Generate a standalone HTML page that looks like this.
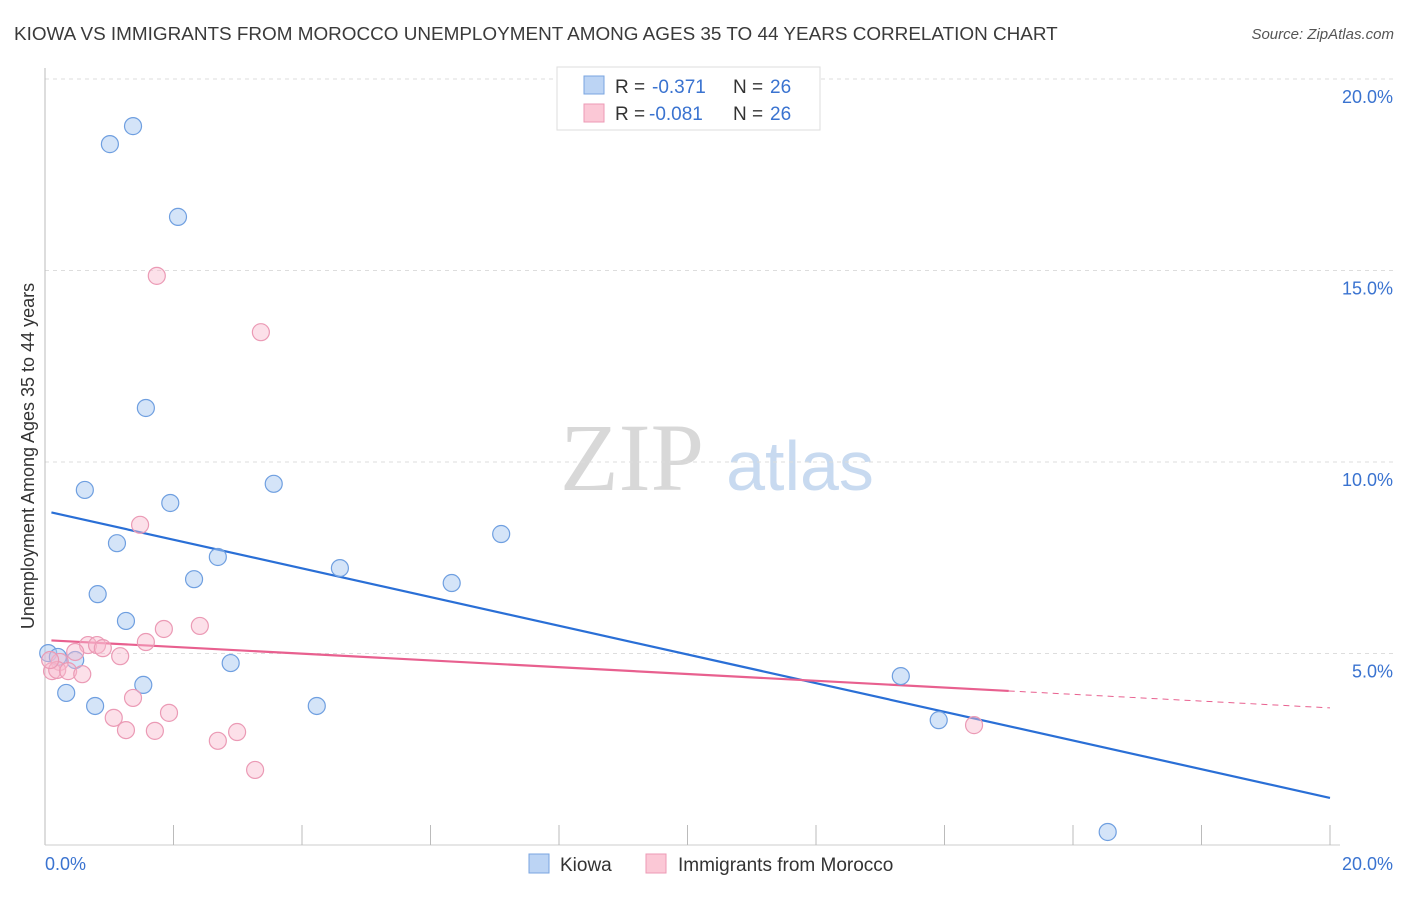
<!DOCTYPE html>
<html><head><meta charset="utf-8"><style>
body{margin:0;background:#fff;font-family:"Liberation Sans",sans-serif;}
</style></head><body>
<svg id="c" width="1406" height="892" xmlns="http://www.w3.org/2000/svg" style="font-family:'Liberation Sans',sans-serif">
<text x="14" y="40" font-size="18.9" fill="#3a3a3a">KIOWA VS IMMIGRANTS FROM MOROCCO UNEMPLOYMENT AMONG AGES 35 TO 44 YEARS CORRELATION CHART</text>
<text x="1394" y="39" font-size="15" font-style="italic" fill="#555" text-anchor="end">Source: ZipAtlas.com</text>
<text x="632" y="490" font-size="96" font-family="Liberation Serif,serif" fill="#d8d8d8" text-anchor="middle">ZIP</text>
<text x="800" y="490" font-size="70" fill="#c8daf0" text-anchor="middle">atlas</text>
<text transform="translate(34,456) rotate(-90)" font-size="18" fill="#333" text-anchor="middle">Unemployment Among Ages 35 to 44 years</text>
<g id="grid"></g><g id="ticks"></g><g id="lines"></g><g id="pts"></g>
<g>
<rect x="557" y="67" width="263" height="63" fill="#fff" stroke="#ddd"/>
<rect x="584" y="76" width="20" height="18" fill="#bcd4f4" stroke="#7aa5e0"/>
<rect x="584" y="104" width="20" height="18" fill="#fbc8d6" stroke="#ec9ab5"/>
<text x="615" y="93" font-size="19" fill="#333">R =</text>
<text x="652" y="93" font-size="19" fill="#3a73d0">-0.371</text>
<text x="733" y="93" font-size="19" fill="#333">N =</text>
<text x="770" y="93" font-size="19" fill="#3a73d0">26</text>
<text x="615" y="120" font-size="19" fill="#333">R =</text>
<text x="649" y="120" font-size="19" fill="#3a73d0">-0.081</text>
<text x="733" y="120" font-size="19" fill="#333">N =</text>
<text x="770" y="120" font-size="19" fill="#3a73d0">26</text>
</g>
<g>
<rect x="529" y="854" width="20" height="19" fill="#bcd4f4" stroke="#7aa5e0"/>
<text x="560" y="871" font-size="19" fill="#333">Kiowa</text>
<rect x="646" y="854" width="20" height="19" fill="#fbc8d6" stroke="#ec9ab5"/>
<text x="678" y="871" font-size="19" fill="#333">Immigrants from Morocco</text>
</g>
</svg>
<script>
const yTicks=[5,10,15,20];
const yTickLabels=["5.0%","10.0%","15.0%","20.0%"];
const kiowaX=[1.37,1.01,2.07,1.57,0.62,1.95,3.56,1.12,2.69,2.32,4.59,6.33,7.10,0.82,1.26,0.05,0.20,0.47,2.89,0.33,1.53,0.78,4.23,13.32,13.91,16.54];
const kiowaY=[18.77,18.30,16.40,11.41,9.27,8.93,9.43,7.88,7.52,6.94,7.23,6.84,8.12,6.55,5.85,5.01,4.91,4.83,4.75,3.97,4.18,3.63,3.63,4.41,3.26,0.34];
const morX=[1.74,3.36,1.48,1.85,2.41,1.57,0.67,0.81,0.90,1.17,0.47,0.23,0.11,0.19,0.36,0.58,1.37,1.07,1.26,1.93,1.71,2.99,2.69,3.27,14.46,0.08];
const morY=[14.86,13.39,8.36,5.64,5.72,5.30,5.22,5.22,5.14,4.93,5.04,4.78,4.54,4.57,4.54,4.46,3.84,3.32,3.00,3.45,2.98,2.95,2.72,1.96,3.13,4.83];
const kiowaTrend=[8.72,1.23];
const morTrend=[5.35,3.58];
const morSolidEnd=15.0;
const NS="http://www.w3.org/2000/svg";
const sx=v=>45+v/20*1285, sy=v=>845-v/5*191.5;
function mk(t,a,p){const e=document.createElementNS(NS,t);for(const k in a)e.setAttribute(k,a[k]);document.getElementById(p).appendChild(e);return e;}
yTicks.forEach((t,i)=>{
 const g=mk('line',{x1:45,x2:1393,y1:sy(t),y2:sy(t),stroke:'#ddd','stroke-dasharray':'4,4'},'grid');
 
 
 const l=mk('text',{x:1393,y:sy(t)+24,'font-size':18,fill:'#3a73d0','text-anchor':'end'},'grid');
 l.textContent=yTickLabels[i];
 
 
});
mk('line',{x1:45,x2:45,y1:68,y2:845,stroke:'#bbb'},'ticks');
mk('line',{x1:45,x2:1340,y1:845,y2:845,stroke:'#ccc'},'ticks');
for(let i=1;i<=10;i++){const e=mk('line',{x1:sx(i*2),x2:sx(i*2),y1:825,y2:845,stroke:'#bbb'},'ticks');
 
 }
const x0=mk('text',{x:45,y:870,'font-size':18,fill:'#3a73d0'},'ticks');x0.textContent='0.0%';


const x1=mk('text',{x:1393,y:870,'font-size':18,fill:'#3a73d0','text-anchor':'end'},'ticks');x1.textContent='20.0%';


kiowaX.forEach((x,i)=>{const c=mk('circle',{cx:sx(x),cy:sy(kiowaY[i]),r:8.5,fill:'rgba(170,202,242,0.5)',stroke:'#6f9fe0','stroke-width':1.2},'pts');
 
 });
morX.forEach((x,i)=>{const c=mk('circle',{cx:sx(x),cy:sy(morY[i]),r:8.5,fill:'rgba(249,186,206,0.45)',stroke:'#eb9ab5','stroke-width':1.2},'pts');
 
 });
const bl=mk('line',{x1:sx(0.1),y1:sy(kiowaTrend[0]+(kiowaTrend[1]-kiowaTrend[0])*0.005),x2:sx(20),y2:sy(kiowaTrend[1]),stroke:'#2a6fd6','stroke-width':2.2},'lines');


const pm=t=>morTrend[0]+(morTrend[1]-morTrend[0])*t/20;
const pl=mk('line',{x1:sx(0.1),y1:sy(pm(0.1)),x2:sx(morSolidEnd),y2:sy(pm(morSolidEnd)),stroke:'#e8608f','stroke-width':2.2},'lines');


const pd=mk('line',{x1:sx(morSolidEnd),y1:sy(pm(morSolidEnd)),x2:sx(20),y2:sy(pm(20)),stroke:'#e8608f','stroke-width':1,'stroke-dasharray':'6,5'},'lines');


</script>
</body></html>
